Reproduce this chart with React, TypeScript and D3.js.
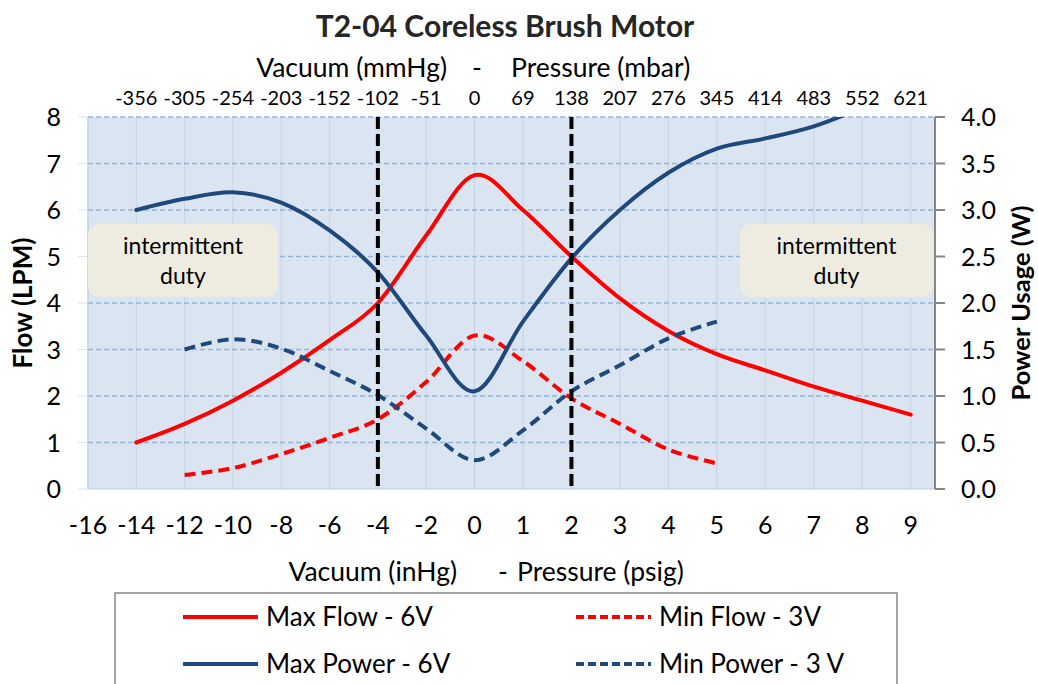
import React from 'react';
import * as d3 from 'd3';

// x positions (inHg / psig) used for ticks
const xTicks = [-16, -14, -12, -10, -8, -6, -4, -2, 0, 1, 2, 3, 4, 5, 6, 7, 8, 9];
const topTicks = [-14, -12, -10, -8, -6, -4, -2, 0, 1, 2, 3, 4, 5, 6, 7, 8, 9];
const topLabels = ['-356', '-305', '-254', '-203', '-152', '-102', '-51', '0', '69', '138', '207', '276', '345', '414', '483', '552', '621'];
const flowTicks = [0, 1, 2, 3, 4, 5, 6, 7, 8];
const powerTicks = [0, 0.5, 1, 1.5, 2, 2.5, 3, 3.5, 4];

const maxFlowX = [-14, -12, -10, -8, -6, -4, -2, 0, 1, 2, 3, 4, 5, 6, 7, 8, 9];
const maxFlow = [1.0, 1.4, 1.9, 2.5, 3.2, 4.0, 5.45, 6.75, 6.0, 5.0, 4.1, 3.4, 2.9, 2.55, 2.2, 1.9, 1.6];

const minFlowX = [-12, -10, -8, -6, -4, -2, 0, 1, 2, 3, 4, 5];
const minFlow = [0.3, 0.45, 0.75, 1.1, 1.5, 2.3, 3.3, 2.75, 1.95, 1.4, 0.85, 0.55];

const maxPowerX = [-14, -12, -10, -8, -6, -4, -2, 0, 1, 2, 3, 4, 5, 6, 7, 8];
const maxPower = [3.0, 3.12, 3.19, 3.08, 2.78, 2.33, 1.65, 1.05, 1.8, 2.48, 3.0, 3.4, 3.66, 3.77, 3.9, 4.1];

const minPowerX = [-12, -10, -8, -6, -4, -2, 0, 1, 2, 3, 4, 5];
const minPower = [1.5, 1.61, 1.51, 1.27, 1.01, 0.65, 0.31, 0.63, 1.05, 1.33, 1.62, 1.8];

const dutyLines = [-4, 2];

const RED = '#ff0000';
const BLUE = '#1f497d';
const FONT = 'Lato, "Open Sans", sans-serif';

export default function App() {
  const W = 1038, H = 684;
  const left = 88, right = 935, top = 117, bottom = 489;

  const x = d3.scaleLinear().domain([-16, 0, 9.5]).range([left, 474.5, right]);
  const yFlow = d3.scaleLinear().domain([0, 8]).range([bottom, top]);
  const yPower = d3.scaleLinear().domain([0, 4]).range([bottom, top]);

  const curve = d3.curveCatmullRom.alpha(0);
  const mkLine = (xs: number[], ys: number[], y: d3.ScaleLinear<number, number>) =>
    d3.line<number>().x((_, i) => x(xs[i])).y(d => y(d)).curve(curve)(ys) || '';

  const series = [
    { d: mkLine(maxFlowX, maxFlow, yFlow), color: RED, dash: null },
    { d: mkLine(minFlowX, minFlow, yFlow), color: RED, dash: '11,6' },
    { d: mkLine(maxPowerX, maxPower, yPower), color: BLUE, dash: null },
    { d: mkLine(minPowerX, minPower, yPower), color: BLUE, dash: '11,6' },
  ];

  const legend = [
    { label: 'Max Flow - 6V', color: RED, dash: null, lx: 183, ly: 617 },
    { label: 'Min Flow - 3V', color: RED, dash: '8,4', lx: 576, ly: 617 },
    { label: 'Max Power - 6V', color: BLUE, dash: null, lx: 183, ly: 664 },
    { label: 'Min Power - 3 V', color: BLUE, dash: '8,4', lx: 576, ly: 664 },
  ];

  const boxes = [
    { x0: 88, x1: 278 },
    { x0: 740, x1: 933 },
  ];

  return (
    <svg width={W} height={H} style={{ position: 'absolute', left: 0, top: 0, background: '#fff' }} fontFamily={FONT}>
      <defs>
        <clipPath id="plot">
          <rect x={left} y={top} width={right - left} height={bottom - top} />
        </clipPath>
      </defs>

      <text x={505} y={37} textAnchor="middle" fontSize={30} fontWeight={700} fill="#262626">
        T2-04 Coreless Brush Motor
      </text>

      {/* top axis title */}
      <text y={77} fontSize={26.5} fill="#000">
        <tspan x={447} textAnchor="end">Vacuum (mmHg)</tspan>
        <tspan x={477} textAnchor="middle">-</tspan>
        <tspan x={511}>Pressure (mbar)</tspan>
      </text>

      {topTicks.map((t, i) => (
        <text key={'tt' + i} x={x(t)} y={105} textAnchor="middle" fontSize={20}>{topLabels[i]}</text>
      ))}

      {/* plot background */}
      <rect x={left} y={top} width={right - left} height={bottom - top} fill="#dbe5f1" />

      {xTicks.map((t, i) => (
        <line key={'vg' + i} x1={x(t)} x2={x(t)} y1={top} y2={bottom} stroke="#c3d3e8" strokeWidth={1} />
      ))}
      {flowTicks.map((t, i) => (
        <g key={'hg' + i}>
          <line x1={left - 10} x2={left} y1={yFlow(t)} y2={yFlow(t)} stroke="#dce3ee" strokeWidth={1} />
          {t > 0 && (
            <line x1={left} x2={right} y1={yFlow(t)} y2={yFlow(t)} stroke="#95b3d7" strokeWidth={1.5} strokeDasharray="5,3" />
          )}
        </g>
      ))}
      <line x1={left} x2={left} y1={top} y2={bottom} stroke="#b9cde5" strokeWidth={1} />
      <line x1={left} x2={right} y1={bottom} y2={bottom} stroke="#b9cde5" strokeWidth={1} />

      {/* intermittent duty boxes */}
      {boxes.map((b, i) => (
        <g key={'bx' + i}>
          <rect x={b.x0} y={224} width={b.x1 - b.x0} height={73} rx={11} fill="#eeece1" />
          <text x={(b.x0 + b.x1) / 2} y={254} textAnchor="middle" fontSize={23}>intermittent</text>
          <text x={(b.x0 + b.x1) / 2} y={284} textAnchor="middle" fontSize={23}>duty</text>
        </g>
      ))}

      <g clipPath="url(#plot)">
        {series.map((s, i) => (
          <path key={'s' + i} d={s.d} fill="none" stroke={s.color} strokeWidth={4}
            strokeDasharray={s.dash || undefined} strokeLinecap={s.dash ? 'butt' : 'round'} />
        ))}
      </g>

      {dutyLines.map((v, i) => (
        <line key={'dl' + i} x1={x(v)} x2={x(v)} y1={top} y2={bottom} stroke="#000" strokeWidth={4} strokeDasharray="12,5" />
      ))}

      {/* right axis */}
      <line x1={right} x2={right} y1={top} y2={bottom} stroke="#868686" strokeWidth={2} />
      {powerTicks.map((t, i) => (
        <g key={'rp' + i}>
          <line x1={right} x2={right + 10} y1={yPower(t)} y2={yPower(t)} stroke="#868686" strokeWidth={2} />
          <text x={961} y={yPower(t)} dy="0.36em" fontSize={25}>{d3.format('.1f')(t)}</text>
        </g>
      ))}

      {/* left axis */}
      {flowTicks.map((t, i) => (
        <text key={'lf' + i} x={61} y={yFlow(t)} dy="0.36em" textAnchor="end" fontSize={25}>{t}</text>
      ))}

      {/* bottom axis */}
      {xTicks.map((t, i) => (
        <text key={'bt' + i} x={x(t)} y={534} textAnchor="middle" fontSize={25}>{t}</text>
      ))}
      <text y={581} fontSize={26.5}>
        <tspan x={457} textAnchor="end">Vacuum (inHg)</tspan>
        <tspan x={503} textAnchor="middle">-</tspan>
        <tspan x={517}>Pressure (psig)</tspan>
      </text>

      <text transform={`translate(32,${(top + bottom) / 2}) rotate(-90)`} textAnchor="middle" fontSize={26} fontWeight={700}>
        Flow (LPM)
      </text>
      <text transform={`translate(1030,${(top + bottom) / 2}) rotate(-90)`} textAnchor="middle" fontSize={25.5} fontWeight={700}>
        Power Usage (W)
      </text>

      {/* legend */}
      <rect x={115} y={593} width={782} height={120} fill="#fff" stroke="#868686" strokeWidth={1.5} />
      {legend.map((l, i) => (
        <g key={'lg' + i}>
          <line x1={l.lx} x2={l.lx + 75} y1={l.ly} y2={l.ly} stroke={l.color} strokeWidth={4}
            strokeDasharray={l.dash || undefined} />
          <text x={l.lx + 83} y={l.ly} dy="0.36em" fontSize={26}>{l.label}</text>
        </g>
      ))}
    </svg>
  );
}
